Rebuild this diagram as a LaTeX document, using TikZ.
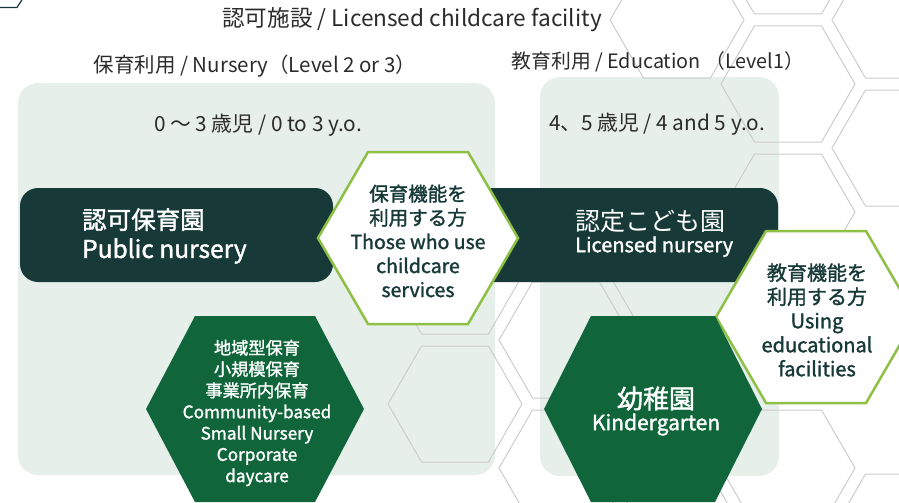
\documentclass[tikz,border=0pt]{standalone}
\usepackage{fontspec}
\setmainfont{Noto Sans CJK JP}
\newfontfamily\medfont{Noto Sans CJK JP}[FakeBold=1.5]
\definecolor{boxgreen}{HTML}{E4EDE8}
\definecolor{darkteal}{HTML}{173A38}
\definecolor{deepgreen}{HTML}{10663A}
\definecolor{limegreen}{HTML}{8DC045}
\definecolor{hexgray}{HTML}{CDCDCD}
\definecolor{textgray}{HTML}{2B2B2B}

\begin{document}
\begin{tikzpicture}[x=1pt, y=-1pt,
    hexline/.style={draw=hexgray, line width=1pt},
    agebox/.style={fill=boxgreen, fill opacity=0.9, rounded corners=20pt},
    darkbar/.style={fill=darkteal, rounded corners=18pt},
    userhex/.style={fill=white, draw=limegreen, line width=2.5pt, line join=miter},
    typehex/.style={fill=deepgreen},
    headtext/.style={text=textgray, inner sep=0pt},
    usertext/.style={text=darkteal, align=center, inner sep=0pt, font=\medfont\fontsize{19.5}{24}\selectfont},
    whitetext/.style={text=white, align=center, inner sep=0pt, font=\medfont}]
    \useasboundingbox (0,0) rectangle (899,503);
    \clip (0,0) rectangle (899,503);

    % corner mark
    \draw[darkteal, line width=1.2pt] (-5,7.5) -- (17,7.5) -- (22.5,-1);

    % age boxes
    \fill[agebox] (18,83) rectangle (495,475);
    \fill[agebox] (540,77) rectangle (779,476);

    % honeycomb
    \foreach \cx/\cy in {455/276, 455/404, 566/340, 566/468, 677/20, 677/276, 677/532,
                         788/-44, 788/84, 788/212, 788/468, 899/20, 899/148, 899/532}
      \draw[hexline] (\cx-67,\cy) -- (\cx-33.5,\cy-58) -- (\cx+33.5,\cy-58) -- (\cx+67,\cy)
                  -- (\cx+33.5,\cy+58) -- (\cx-33.5,\cy+58) -- cycle;

    % headings
    \node[headtext, font=\fontsize{22.6}{26}\selectfont] at (412, 20) (title)
      {認可施設 / Licensed childcare facility};
    \node[headtext, font=\fontsize{20.5}{22}\selectfont] at (255, 66) (nurseryhead)
      {保育利用 / Nursery（Level 2 or 3）};
    \node[headtext, font=\fontsize{19.8}{22}\selectfont] at (658, 62) (eduhead)
      {教育利用 / Education （Level1）};
    \node[headtext, font=\fontsize{20.8}{22}\selectfont] at (258, 125) (agesleft)
      {0 〜 3 歳児 / 0 to 3 y.o.};
    \node[headtext, font=\fontsize{20.8}{22}\selectfont] at (657, 124) (agesright)
      {4、5 歳児 / 4 and 5 y.o.};

    % facility bars
    \fill[darkbar] (20,188) rectangle (333,282);
    \fill[darkbar] (450,188) rectangle (778,282);
    \node[whitetext, anchor=west, align=left, font=\medfont\fontsize{24.5}{29}\selectfont] at (82, 236) (publicnursery)
      {認可保育園\\Public nursery};
    \node[whitetext, anchor=west, align=left] at (575, 233) (licensednursery)
      {{\normalfont\fontsize{25}{26}\selectfont 認定こども園}\\[3pt]{\fontsize{20}{22}\selectfont Licensed nursery}};

    % users
    \fill[userhex] (318,238) -- (368,152) -- (468,152) -- (518,238) -- (468,324) -- (368,324) -- cycle;
    \node[usertext] at (418, 241) (childcareuse)
      {保育機能を\\利用する方\\Those who use\\childcare\\services};
    \fill[userhex] (716,317) -- (766,231) -- (866,231) -- (916,317) -- (866,403) -- (766,403) -- cycle;
    \node[usertext, font=\medfont\fontsize{20}{24}\selectfont] at (817, 320) (educationuse)
      {教育機能を\\利用する方\\Using\\educational\\facilities};

    % facility types
    \fill[typehex] (146,409) -- (195,316) -- (315,316) -- (364,409) -- (315,502) -- (195,502) -- cycle;
    \node[whitetext, font=\medfont\fontsize{17.2}{21.3}\selectfont] at (257, 413) (community)
      {地域型保育\\小規模保育\\事業所内保育\\Community-based\\Small Nursery\\Corporate\\daycare};
    \fill[typehex] (544,409) -- (591,316) -- (715,316) -- (762,409) -- (715,502) -- (591,502) -- cycle;
    \node[whitetext] at (656, 411) (kinder)
      {{\fontsize{26}{28}\selectfont 幼稚園}\\[2pt]{\fontsize{21}{24}\selectfont Kindergarten}};
\end{tikzpicture}
\end{document}
